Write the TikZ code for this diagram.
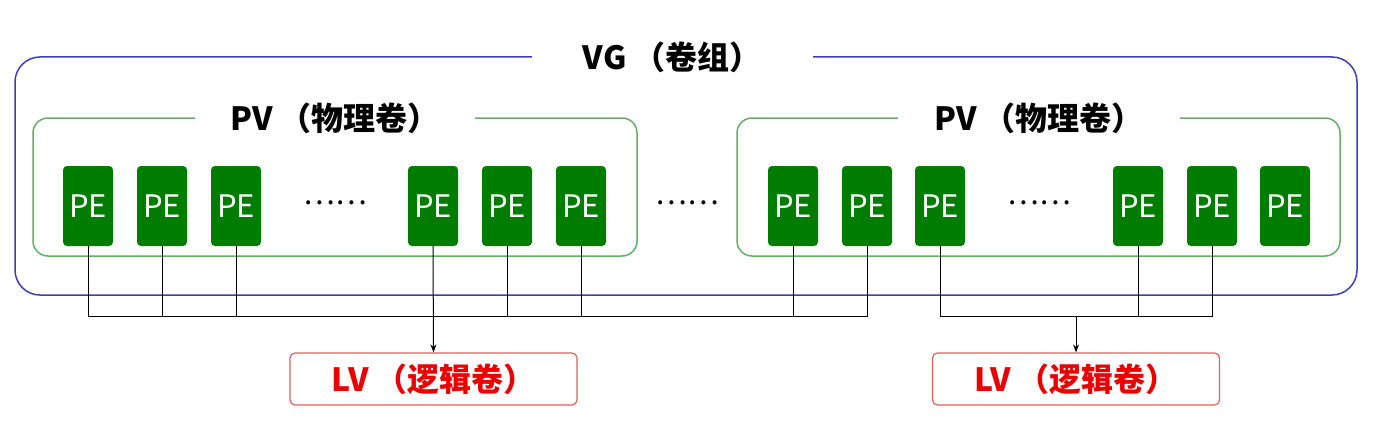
\documentclass[tikz,border=0pt]{standalone}
\usepackage{fontspec}
\setmainfont{Noto Sans CJK SC}
\usetikzlibrary{arrows.meta, positioning}
\definecolor{vgBlue}  {RGB}{60,60,190}
\definecolor{pvGreen} {RGB}{100,175,100}
\definecolor{peGreen} {RGB}{0,125,0}
\definecolor{lvRed}   {RGB}{225,95,95}
\definecolor{lvText}  {RGB}{235,0,0}

\begin{document}
\begin{tikzpicture}[x=1pt, y=-1pt,
    pe/.style={fill=peGreen, rounded corners=4pt, minimum width=50pt, minimum height=80pt, inner sep=0pt, text=white, font=\fontsize{31}{31}\selectfont},
    title/.style={fill=white, inner sep=0pt, minimum height=40pt, font=\fontsize{32}{32}\selectfont\bfseries},
    dots/.style={inner sep=0pt, font=\fontsize{30}{30}\selectfont},
    lv/.style={draw=lvRed, line width=1.2pt, rounded corners=5pt, minimum width=287pt, minimum height=52pt, text=lvText, font=\fontsize{32}{32}\selectfont\bfseries},
    link/.style={line width=1pt}]
    \useasboundingbox (0,0) rectangle (1386,428);
    % VG and PV frames
    \draw[vgBlue, line width=1.5pt, rounded corners=25pt] (15,57) rectangle (1357,295);
    \node[title, minimum width=281pt] (vg) at (672,57) {VG\hspace{0.2em}（卷组）};
    \draw[pvGreen, line width=1.5pt, rounded corners=15pt] (33,118) rectangle (637,256);
    \node[title, minimum width=280pt] (pv1) at (335,118) {PV\hspace{0.2em}（物理卷）};
    \draw[pvGreen, line width=1.5pt, rounded corners=15pt] (737,118) rectangle (1340,256);
    \node[title, minimum width=282pt] (pv2) at (1039,118) {PV\hspace{0.2em}（物理卷）};
    % PEs
    \foreach \i/\x in {1/88, 2/162, 3/236, 4/433, 5/507, 6/581, 7/793, 8/867, 9/940, 10/1138, 11/1212, 12/1285}
        \node[pe] (pe\i) at (\x,206) {PE};
    \node[dots] (dots1) at (335,203) {……};
    \node[dots] (dots2) at (687,203) {……};
    \node[dots] (dots3) at (1039,203) {……};
    % LVs
    \node[lv] (lv1) at (433.5,379) {LV\hspace{0.2em}（逻辑卷）};
    \node[lv] (lv2) at (1076,379) {LV\hspace{0.2em}（逻辑卷）};
    % links
    \draw[link] (pe1.south) |- (pe8.south |- 0,316) -- (pe8.south);
    \foreach \i in {2,3,5,6,7}
        \draw[link] (pe\i.south) -- (pe\i.south |- 0,316);
    \draw[link, -{Stealth[length=8pt, width=6pt]}] (pe4.south) -- (lv1.north);
    \draw[link] (pe9.south) |- (pe11.south |- 0,316) -- (pe11.south);
    \draw[link] (pe10.south) -- (pe10.south |- 0,316);
    \draw[link, -{Stealth[length=8pt, width=6pt]}] (lv2.north |- 0,316) -- (lv2.north);
\end{tikzpicture}
\end{document}
